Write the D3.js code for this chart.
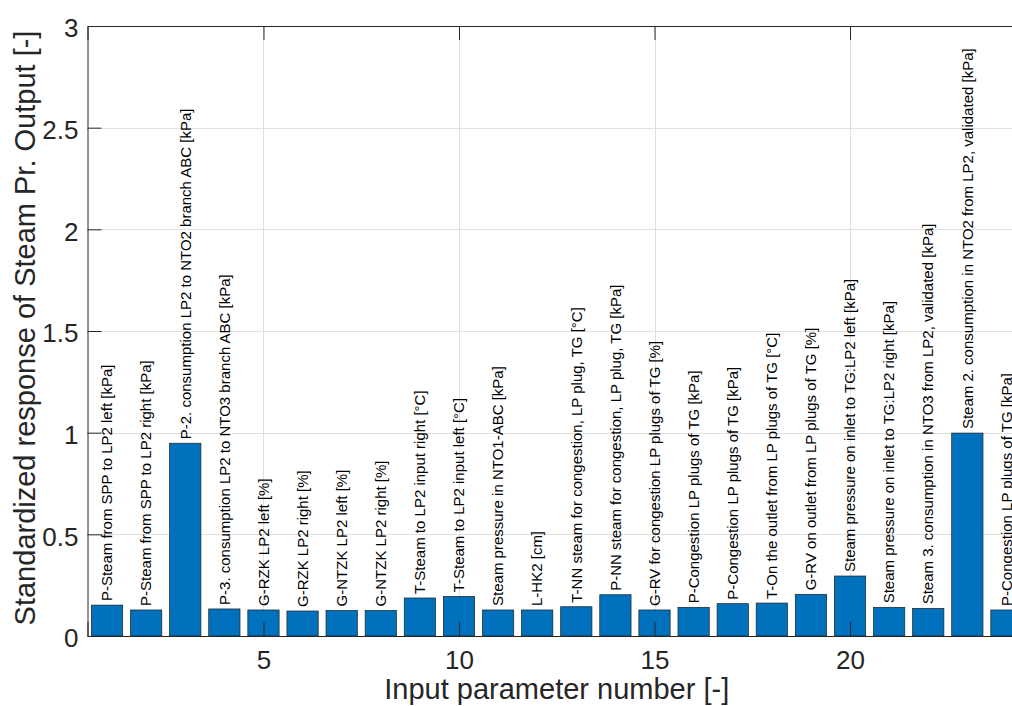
<!DOCTYPE html>
<html>
<head>
<meta charset="utf-8">
<script src="https://cdn.jsdelivr.net/npm/d3@7"></script>
<style>
  html, body { margin: 0; padding: 0; background: #fff; overflow: hidden; }
  svg { display: block; font-family: "Liberation Sans", Arial, Helvetica, sans-serif; }
</style>
</head>
<body>
<svg id="chart" width="1012" height="706"></svg>
<script>
// Input parameter numbers
const paramIds = d3.range(1, 25);

// Parameter descriptions shown above each bar
const paramNames = [
  "P-Steam from SPP to LP2 left [kPa]",
  "P-Steam from SPP to LP2 right [kPa]",
  "P-2. consumption LP2 to NTO2 branch ABC [kPa]",
  "P-3. consumption LP2 to NTO3 branch ABC [kPa]",
  "G-RZK LP2 left [%]",
  "G-RZK LP2 right [%]",
  "G-NTZK LP2 left [%]",
  "G-NTZK LP2 right [%]",
  "T-Steam to LP2 input right [°C]",
  "T-Steam to LP2 input left [°C]",
  "Steam pressure in NTO1-ABC [kPa]",
  "L-HK2 [cm]",
  "T-NN steam for congestion, LP plug, TG [°C]",
  "P-NN steam for congestion, LP plug, TG [kPa]",
  "G-RV for congestion LP plugs of TG [%]",
  "P-Congestion LP plugs of TG [kPa]",
  "P-Congestion LP plugs of TG [kPa]",
  "T-On the outlet from LP plugs of TG [°C]",
  "G-RV on outlet from LP plugs of TG [%]",
  "Steam pressure on inlet to TG:LP2 left [kPa]",
  "Steam pressure on inlet to TG:LP2 right [kPa]",
  "Steam 3. consumption in NTO3 from LP2, validated [kPa]",
  "Steam 2. consumption in NTO2 from LP2, validated [kPa]",
  "P-Congestion LP plugs of TG [kPa]"
];

// Standardized response of the steam pressure output
const responses = [
  0.152, 0.128, 0.948, 0.133, 0.128, 0.123, 0.126, 0.126,
  0.187, 0.195, 0.128, 0.128, 0.144, 0.203, 0.128, 0.141,
  0.159, 0.162, 0.205, 0.295, 0.141, 0.136, 0.998, 0.128
];

// Axis ticks
const xTicks = [5, 10, 15, 20];
const yTicks = [0, 0.5, 1, 1.5, 2, 2.5, 3];
const yTickLabels = ["0", "0.5", "1", "1.5", "2", "2.5", "3"];

const data = paramIds.map((id, i) => ({ id, name: paramNames[i], value: responses[i] }));

const svg = d3.select("#chart");
const plotLeft = 87.5, plotRight = 1026, plotTop = 26, plotBottom = 636;
const axisColor = "#262626";
const tickLen = 14;

const x = d3.scaleLinear().domain([0.5, 24.5]).range([plotLeft, plotRight]);
const y = d3.scaleLinear().domain([0, 3]).range([plotBottom, plotTop]);
const barW = x(0.8) - x(0);

// Grid
const grid = svg.append("g").attr("stroke", "#e0e0e0").attr("stroke-width", 1);
grid.selectAll("line.gy").data(yTicks.slice(1, -1)).join("line")
  .attr("x1", plotLeft).attr("x2", plotRight)
  .attr("y1", d => Math.round(y(d)) + 0.5).attr("y2", d => Math.round(y(d)) + 0.5);
grid.selectAll("line.gx").data(xTicks).join("line")
  .attr("y1", plotTop).attr("y2", plotBottom)
  .attr("x1", d => Math.round(x(d)) + 0.5).attr("x2", d => Math.round(x(d)) + 0.5);

// Bars
svg.append("g").selectAll("rect").data(data).join("rect")
  .attr("x", d => x(d.id) - barW / 2)
  .attr("width", barW)
  .attr("y", d => y(d.value))
  .attr("height", d => y(0) - y(d.value))
  .attr("fill", "#0072BD")
  .attr("stroke", "#1f1f1f")
  .attr("stroke-width", 0.7);

// Bar labels
svg.append("g").selectAll("text").data(data).join("text")
  .attr("transform", d => `translate(${x(d.id)},${y(d.value) - 4}) rotate(-90)`)
  .attr("text-anchor", "start")
  .attr("dy", "0.35em")
  .attr("font-size", 15)
  .attr("fill", "#000")
  .text(d => d.name);

// Axes (ticks point inward)
const xAxisBottom = d3.axisBottom(x).tickValues(xTicks).tickSize(-tickLen).tickFormat(d3.format("d"));
const xAxisTop = d3.axisTop(x).tickValues(xTicks).tickSize(-tickLen).tickFormat("");
const yAxisLeft = d3.axisLeft(y).tickValues(yTicks).tickSize(-tickLen).tickPadding(9)
  .tickFormat((d, i) => yTickLabels[i]);

function styleAxis(g) {
  g.select(".domain").attr("stroke", axisColor).attr("stroke-width", 1);
  g.selectAll(".tick line").attr("stroke", axisColor).attr("stroke-width", 1);
  g.selectAll(".tick text").attr("fill", axisColor).attr("font-size", 26)
    .attr("font-family", "\"Liberation Sans\", Arial, sans-serif");
}

svg.append("g").attr("transform", `translate(0,${plotBottom})`).call(xAxisBottom).call(styleAxis)
  .call(g => g.selectAll(".tick text").attr("y", 33).attr("dy", 0));
svg.append("g").attr("transform", `translate(0,${plotTop})`).call(xAxisTop).call(styleAxis);
svg.append("g").attr("transform", `translate(${plotLeft},0)`).call(yAxisLeft).call(styleAxis)
  .call(g => g.selectAll(".tick text").attr("dy", "0.42em"));

// Axis titles
svg.append("text")
  .attr("x", (plotLeft + plotRight) / 2).attr("y", 699)
  .attr("text-anchor", "middle")
  .attr("font-size", 29).attr("fill", axisColor)
  .text("Input parameter number [-]");

svg.append("text")
  .attr("transform", "translate(35,328) rotate(-90)")
  .attr("text-anchor", "middle")
  .attr("font-size", 29).attr("fill", axisColor)
  .text("Standardized response of Steam Pr. Output [-]");
</script>
</body>
</html>
